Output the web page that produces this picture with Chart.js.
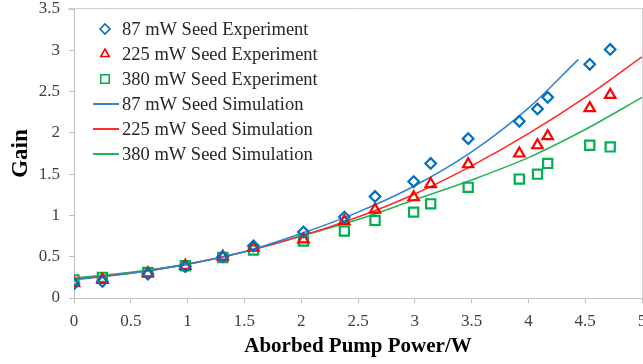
<!DOCTYPE html>
<html>
<head>
<meta charset="utf-8">
<script src="https://cdn.jsdelivr.net/npm/chart.js@4/dist/chart.umd.min.js"></script>
<style>
html,body{margin:0;padding:0;background:#fff;}
#wrap{width:643px;height:364px;position:relative;}
</style>
</head>
<body>
<div id="wrap"><canvas id="c" width="643" height="364"></canvas></div>
<script>
// ---- data ----
const expPower = [0, 0.25, 0.65, 0.98, 1.31, 1.58, 2.02, 2.38, 2.65, 2.99, 3.14, 3.47, 3.92, 4.08, 4.17, 4.54, 4.72];
const exp87  = [0.17, 0.20, 0.29, 0.38, 0.50, 0.63, 0.80, 0.98, 1.23, 1.41, 1.63, 1.93, 2.14, 2.29, 2.43, 2.83, 3.01];
const exp225 = [0.18, 0.22, 0.30, 0.39, 0.50, 0.61, 0.71, 0.93, 1.07, 1.22, 1.38, 1.62, 1.75, 1.85, 1.96, 2.30, 2.46];
const exp380 = [0.22, 0.25, 0.31, 0.39, 0.49, 0.58, 0.69, 0.81, 0.94, 1.04, 1.14, 1.34, 1.44, 1.50, 1.63, 1.85, 1.83];

const simPower87 = [0, 0.5, 1, 1.5, 2, 2.5, 3, 3.5, 4, 4.44];
const sim87  = [0.22, 0.30, 0.41, 0.56, 0.78, 1.04, 1.36, 1.77, 2.30, 2.89];
const simPower = [0, 0.5, 1, 1.5, 2, 2.5, 3, 3.5, 4, 4.5, 5];
const sim225 = [0.23, 0.30, 0.41, 0.56, 0.75, 0.98, 1.26, 1.60, 1.99, 2.43, 2.92];
const sim380 = [0.24, 0.31, 0.41, 0.56, 0.75, 0.95, 1.19, 1.43, 1.70, 2.04, 2.43];

const seriesLabels = ['87 mW Seed Experiment', '225 mW Seed Experiment', '380 mW Seed Experiment',
                      '87 mW Seed Simulation', '225 mW Seed Simulation', '380 mW Seed Simulation'];
const xTicks = [0, 0.5, 1, 1.5, 2, 2.5, 3, 3.5, 4, 4.5, 5];
const yTicks = [0, 0.5, 1, 1.5, 2, 2.5, 3, 3.5];
const xTitle = 'Aborbed Pump Power/W';
const yTitle = 'Gain';

// ---- build ----
const pts = (xs, ys) => xs.map((x, i) => ({x: x, y: ys[i]}));
const SERIF = '"Liberation Serif", "Times New Roman", serif';

const datasets = [
  {label: seriesLabels[0], data: pts(expPower, exp87), showLine: false, pointStyle: 'rectRot', pointRadius: 5.3,
   borderColor: '#0070C0', backgroundColor: 'rgba(0,0,0,0)', pointBorderWidth: 2.2, order: 1},
  {label: seriesLabels[1], data: pts(expPower, exp225), showLine: false, pointStyle: 'triangle', pointRadius: 6,
   borderColor: '#FF0000', backgroundColor: 'rgba(0,0,0,0)', pointBorderWidth: 2.2, order: 2},
  {label: seriesLabels[2], data: pts(expPower, exp380), showLine: false, pointStyle: 'rect', pointRadius: 6.5,
   borderColor: '#00B050', backgroundColor: 'rgba(0,0,0,0)', pointBorderWidth: 2.2, order: 3},
  {label: seriesLabels[3], data: pts(simPower87, sim87), showLine: true, pointRadius: 0, borderWidth: 1.6,
   borderColor: '#2F84D4', backgroundColor: '#2F84D4', cubicInterpolationMode: 'monotone', order: 4},
  {label: seriesLabels[4], data: pts(simPower, sim225), showLine: true, pointRadius: 0, borderWidth: 1.6,
   borderColor: '#FF2A2A', backgroundColor: '#FF2A2A', cubicInterpolationMode: 'monotone', order: 5},
  {label: seriesLabels[5], data: pts(simPower, sim380), showLine: true, pointRadius: 0, borderWidth: 1.6,
   borderColor: '#26B457', backgroundColor: '#26B457', cubicInterpolationMode: 'monotone', order: 6}
];

function drawMarker(ctx, style, x, y, r) {
  ctx.beginPath();
  if (style === 'rectRot') {
    ctx.moveTo(x - r, y); ctx.lineTo(x, y - r); ctx.lineTo(x + r, y); ctx.lineTo(x, y + r); ctx.closePath();
  } else if (style === 'triangle') {
    const w = r * Math.sqrt(3) / 2;
    ctx.moveTo(x, y - r); ctx.lineTo(x + w, y + r / 2); ctx.lineTo(x - w, y + r / 2); ctx.closePath();
  } else {
    const s = r * Math.SQRT1_2;
    ctx.rect(x - s, y - s, 2 * s, 2 * s);
  }
  ctx.stroke();
}

// fix the plot box to the reference's position
const AREA = {left: 74, top: 9, right: 642, bottom: 298};
const areaPlugin = {
  id: 'area',
  afterLayout(chart) {
    const a = chart.chartArea, x = chart.scales.x, y = chart.scales.y;
    a.left = AREA.left; a.right = AREA.right; a.top = AREA.top; a.bottom = AREA.bottom;
    a.width = a.right - a.left; a.height = a.bottom - a.top;
    x.left = AREA.left; x.right = AREA.right; x.width = x.right - x.left; x.configure();
    y.top = AREA.top; y.bottom = AREA.bottom; y.height = y.bottom - y.top; y.configure();
  }
};

const framePlugin = {
  id: 'frame',
  afterDraw(chart) {
    const ctx = chart.ctx, a = chart.chartArea;
    ctx.save();
    ctx.strokeStyle = '#D0D0D0';
    ctx.lineWidth = 1;
    ctx.beginPath();
    ctx.moveTo(68, 8.5); ctx.lineTo(643, 8.5);
    ctx.moveTo(642.5, 8.5); ctx.lineTo(642.5, a.bottom);
    ctx.stroke();
    // legend
    const lx = 105, tx = 122, y0 = 29, dy = 25;
    ctx.font = '18.5px ' + SERIF;
    ctx.textBaseline = 'middle';
    ctx.textAlign = 'left';
    chart.data.datasets.forEach((ds, i) => {
      const y = y0 + i * dy;
      ctx.strokeStyle = ds.borderColor;
      if (ds.showLine) {
        ctx.lineWidth = 2;
        ctx.beginPath(); ctx.moveTo(93, y); ctx.lineTo(119, y); ctx.stroke();
      } else {
        ctx.lineWidth = 1.6;
        drawMarker(ctx, ds.pointStyle, lx, y, ds.pointStyle === 'rect' ? 6 : 5);
      }
      ctx.fillStyle = '#262626';
      ctx.fillText(ds.label, tx, y + 1);
    });
    ctx.restore();
  }
};

new Chart(document.getElementById('c'), {
  type: 'scatter',
  data: {datasets: datasets},
  options: {
    responsive: false,
    animation: false,
    layout: {padding: {top: 9, right: 1, left: 0, bottom: 0}},
    plugins: {legend: {display: false}, tooltip: {enabled: false}},
    scales: {
      x: {
        type: 'linear', min: 0, max: 5,
        afterBuildTicks: s => { s.ticks = xTicks.map(v => ({value: v})); },
        afterFit: s => { s.height = 66; },
        ticks: {color: '#404040', font: {family: SERIF, size: 17}, padding: 8, maxRotation: 0,
                callback: v => String(v)},
        grid: {drawOnChartArea: false, drawTicks: true, tickLength: 5, color: '#BFBFBF'},
        border: {display: true, color: '#BFBFBF', width: 1},
        title: {display: true, text: xTitle, color: '#000', font: {family: SERIF, size: 21, weight: 'bold'},
                padding: {top: 0, bottom: 5}}
      },
      y: {
        type: 'linear', min: 0, max: 3.5,
        afterBuildTicks: s => { s.ticks = yTicks.map(v => ({value: v})); },
        afterFit: s => { s.width = 74; },
        ticks: {color: '#404040', font: {family: SERIF, size: 17}, padding: 9, callback: v => String(v)},
        grid: {drawOnChartArea: false, drawTicks: true, tickLength: 5, color: '#BFBFBF'},
        border: {display: true, color: '#BFBFBF', width: 1},
        title: {display: true, text: yTitle, color: '#000', font: {family: SERIF, size: 23, weight: 'bold'},
                padding: {top: 7, bottom: 0}}
      }
    }
  },
  plugins: [areaPlugin, framePlugin]
});
</script>
</body>
</html>
